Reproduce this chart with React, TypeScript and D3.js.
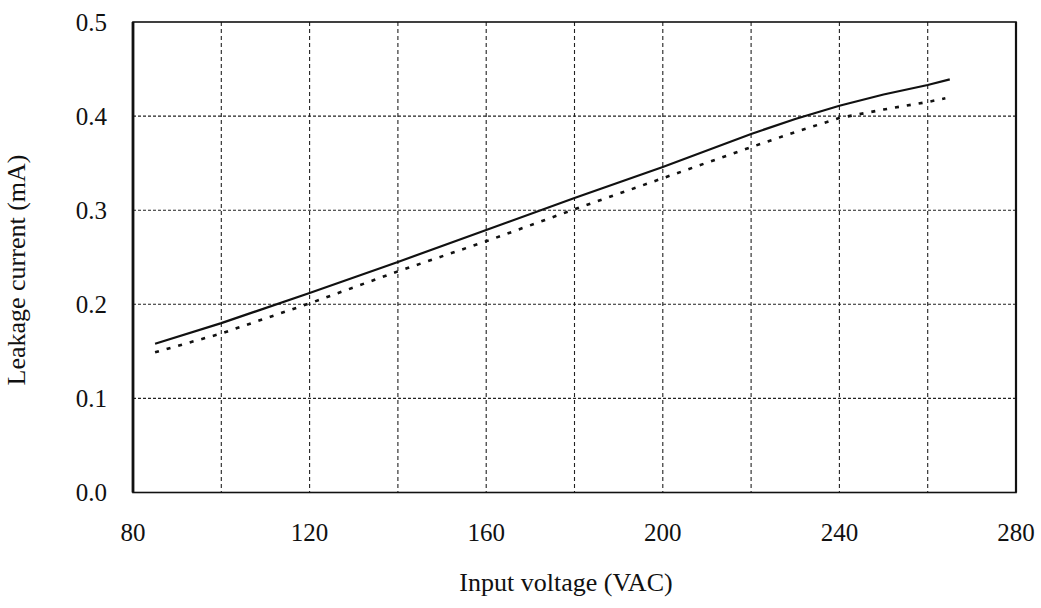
import * as d3 from 'd3';
import React from 'react';

// Chart data
const voltsA = [85, 100, 120, 140, 160, 180, 200, 220, 230, 240, 250, 260, 265];
const currentA = [0.158, 0.180, 0.212, 0.245, 0.279, 0.313, 0.346, 0.381, 0.397, 0.411, 0.423, 0.433, 0.439];
const voltsB = [85, 100, 120, 140, 160, 180, 200, 220, 230, 240, 250, 260, 264];
const currentB = [0.149, 0.169, 0.201, 0.235, 0.267, 0.301, 0.334, 0.367, 0.383, 0.398, 0.407, 0.415, 0.419];
const xTicks = [80, 120, 160, 200, 240, 280];
const xGrid = [100, 120, 140, 160, 180, 200, 220, 240, 260];
const yTicks = [0, 0.1, 0.2, 0.3, 0.4, 0.5];

const width = 1041;
const height = 608;
const left = 133;
const right = 1016;
const top = 22;
const bottom = 492.5;
const font = '"Liberation Serif", "Times New Roman", serif';

export default function App() {
    const svgRef = React.useRef(null);

    function drawChart() {
        const svg = d3.select(svgRef.current);
        svg.selectAll('*').remove();

        const x = d3.scaleLinear().domain([80, 280]).range([left, right]);
        const y = d3.scaleLinear().domain([0, 0.5]).range([bottom, top]);

        svg.append('rect').attr('width', width).attr('height', height).attr('fill', 'white');

        // grid
        const grid = svg.append('g').attr('stroke', '#222').attr('stroke-width', 1.1).attr('fill', 'none');
        grid.selectAll('.vg').data(xGrid).enter().append('line')
            .attr('x1', d => x(d)).attr('x2', d => x(d))
            .attr('y1', top).attr('y2', bottom)
            .attr('stroke-dasharray', '4 3');
        grid.selectAll('.hg').data(yTicks.slice(1, -1)).enter().append('line')
            .attr('x1', left).attr('x2', right)
            .attr('y1', d => y(d)).attr('y2', d => y(d))
            .attr('stroke-dasharray', '3 2');

        // frame
        svg.append('rect')
            .attr('x', left).attr('y', top)
            .attr('width', right - left).attr('height', bottom - top)
            .attr('fill', 'none').attr('stroke', '#111').attr('stroke-width', 1.6);
        svg.append('line')
            .attr('x1', left).attr('x2', left).attr('y1', top).attr('y2', bottom)
            .attr('stroke', '#111').attr('stroke-width', 2.8);
        svg.append('line')
            .attr('x1', right).attr('x2', right).attr('y1', top).attr('y2', bottom)
            .attr('stroke', '#111').attr('stroke-width', 2.2);

        const line = d3.line<[number, number]>().x(d => x(d[0])).y(d => y(d[1]));
        const a = voltsA.map((v, i) => [v, currentA[i]] as [number, number]);
        const b = voltsB.map((v, i) => [v, currentB[i]] as [number, number]);

        svg.append('path').attr('d', line(a)).attr('fill', 'none')
            .attr('stroke', '#111').attr('stroke-width', 2.2);
        svg.append('path').attr('d', line(b)).attr('fill', 'none')
            .attr('stroke', '#111').attr('stroke-width', 2.6)
            .attr('stroke-dasharray', '4 8');

        // tick labels
        svg.selectAll('.xt').data(xTicks).enter().append('text')
            .attr('x', d => x(d)).attr('y', 541)
            .attr('text-anchor', 'middle')
            .attr('font-family', font).attr('font-size', 25).attr('fill', '#111')
            .text(d => d);
        svg.selectAll('.yt').data(yTicks).enter().append('text')
            .attr('x', 107).attr('y', d => y(d) + 8.5)
            .attr('text-anchor', 'end')
            .attr('font-family', font).attr('font-size', 25).attr('fill', '#111')
            .text(d => d.toFixed(1));

        // axis titles
        svg.append('text')
            .attr('x', 566).attr('y', 591)
            .attr('text-anchor', 'middle')
            .attr('font-family', font).attr('font-size', 26).attr('fill', '#111')
            .text('Input voltage (VAC)');
        svg.append('text')
            .attr('transform', 'translate(25, 270) rotate(-90)')
            .attr('text-anchor', 'middle')
            .attr('font-family', font).attr('font-size', 26).attr('fill', '#111')
            .text('Leakage current (mA)');
    }

    React.useEffect(() => {
        drawChart();
    });

    return (
        <svg ref={svgRef} width={width} height={height}
            style={{ position: 'absolute', left: 0, top: 0 }}></svg>
    );
}
